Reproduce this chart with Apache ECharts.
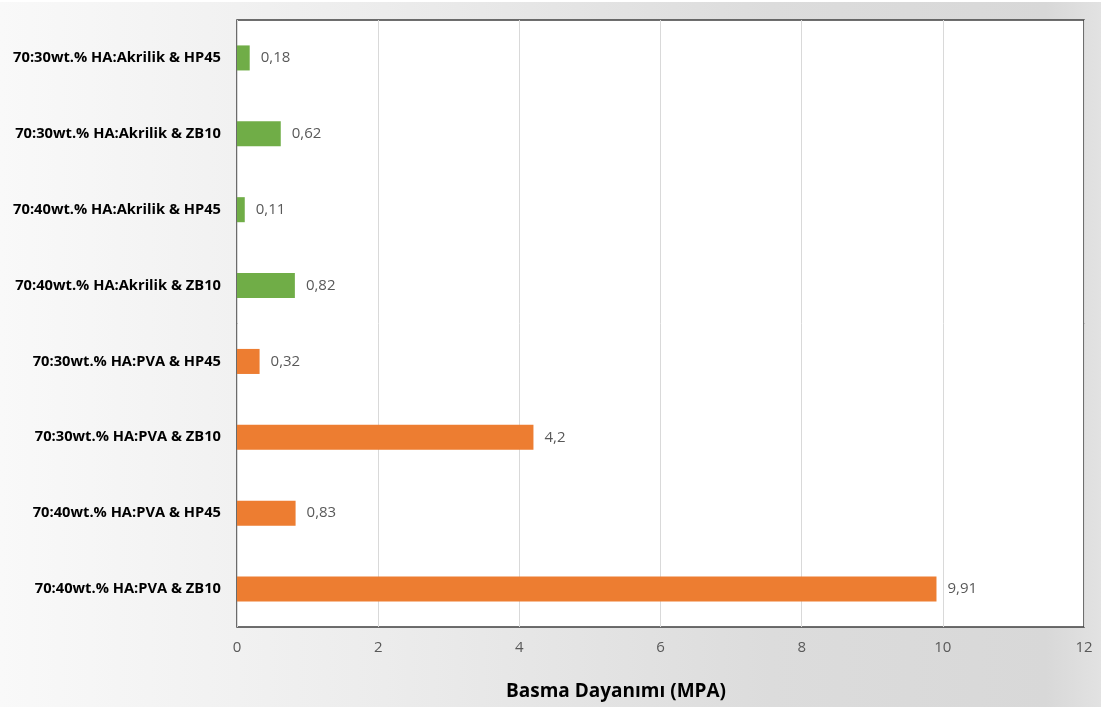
<!DOCTYPE html>
<html>
<head>
<meta charset="utf-8">
<script src="https://cdn.jsdelivr.net/npm/echarts@6/dist/echarts.min.js"></script>
<style>
  html, body { margin: 0; padding: 0; background: #ffffff; }
  #chart {
    position: absolute; left: 0; top: 2px; width: 1101px; height: 705px;
    background: linear-gradient(to right, #f9f9f9 0%, #ececec 35%, #dcdcdc 70%, #d8d8d8 95%, #e2e2e2 100%);
  }
</style>
</head>
<body>
<div id="chart"></div>
<script>
// Compressive strength of HA scaffolds by binder and porogen
const categories = [
  '70:30wt.% HA:Akrilik & HP45',
  '70:30wt.% HA:Akrilik & ZB10',
  '70:40wt.% HA:Akrilik & HP45',
  '70:40wt.% HA:Akrilik & ZB10',
  '70:30wt.% HA:PVA & HP45',
  '70:30wt.% HA:PVA & ZB10',
  '70:40wt.% HA:PVA & HP45',
  '70:40wt.% HA:PVA & ZB10'
];
const values = [0.18, 0.62, 0.11, 0.82, 0.32, 4.2, 0.83, 9.91];
const binder = ['Akrilik', 'Akrilik', 'Akrilik', 'Akrilik', 'PVA', 'PVA', 'PVA', 'PVA'];
const xTicks = [0, 2, 4, 6, 8, 10, 12];
const axisTitle = 'Basma Dayanımı (MPA)';

const binderColor = { Akrilik: '#70ad47', PVA: '#ed7d31' };
const font = '"Open Sans", Lato, sans-serif';

const chart = echarts.init(document.getElementById('chart'));
chart.setOption({
  animation: false,
  grid: {
    left: 237, right: 17, top: 18, bottom: 80,
    show: true, backgroundColor: '#ffffff', borderColor: '#3f3f3f', borderWidth: 1.5,
    containLabel: false
  },
  xAxis: {
    type: 'value',
    min: xTicks[0], max: xTicks[xTicks.length - 1], interval: 2,
    axisLine: { show: false }, axisTick: { show: false },
    splitLine: { lineStyle: { color: '#d9d9d9', width: 1 } },
    axisLabel: { color: '#595959', fontSize: 15, fontFamily: font, margin: 13 }
  },
  yAxis: {
    type: 'category', data: categories, inverse: true,
    axisLine: { show: false }, axisTick: { show: false },
    axisLabel: { color: '#000000', fontSize: 14.7, fontWeight: 'bold', fontFamily: font, margin: 16 }
  },
  graphic: [{
    type: 'text', x: 616, y: 690,
    style: {
      text: axisTitle, fill: '#000000', fontSize: 19, fontWeight: 'bold', fontFamily: font,
      align: 'center', verticalAlign: 'middle'
    }
  }],
  series: [{
    type: 'bar',
    data: values,
    barCategoryGap: '67%',
    itemStyle: { color: p => binderColor[binder[p.dataIndex]] },
    label: {
      show: true, position: 'right', distance: 11,
      color: '#595959', fontSize: 15, fontFamily: font,
      formatter: p => String(p.value).replace('.', ',')
    }
  }]
});
</script>
</body>
</html>
